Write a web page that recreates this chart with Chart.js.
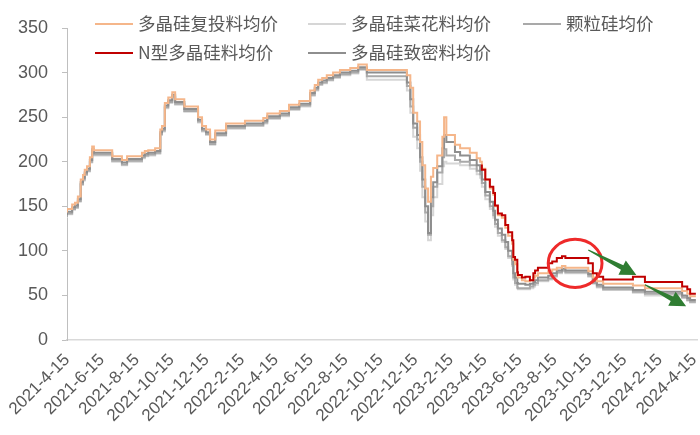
<!DOCTYPE html>
<html><head><meta charset="utf-8">
<script src="https://cdn.jsdelivr.net/npm/chart.js@4.4.1/dist/chart.umd.min.js"></script>
<style>html,body{margin:0;padding:0;background:#fff;overflow:hidden;}</style>
</head><body>
<canvas id="c" width="700" height="435"></canvas>
<script>
// ---------- DATA ----------
const tickLabels = ['2021-4-15','2021-6-15','2021-8-15','2021-10-15','2021-12-15','2022-2-15','2022-4-15','2022-6-15','2022-8-15','2022-10-15','2022-12-15','2023-2-15','2023-4-15','2023-6-15','2023-8-15','2023-10-15','2023-12-15','2024-2-15','2024-4-15'];

const seriesNames = ['多晶硅复投料均价','多晶硅菜花料均价','颗粒硅均价','N型多晶硅料均价','多晶硅致密料均价'];

const dates = ['2021-04-15','2021-04-24','2021-04-29','2021-05-04','2021-05-09','2021-05-13','2021-05-16','2021-05-20','2021-05-25','2021-05-29',
'2021-06-01','2021-07-03','2021-07-20','2021-07-29','2021-08-24','2021-08-29','2021-09-04','2021-09-16','2021-09-25','2021-09-28',
'2021-10-03','2021-10-09','2021-10-16','2021-10-21','2021-11-06','2021-11-30','2021-12-07','2021-12-14','2021-12-21','2021-12-30',
'2022-01-18','2022-02-20','2022-03-24','2022-03-31','2022-04-22','2022-05-08','2022-05-26','2022-06-14','2022-06-22','2022-06-28',
'2022-07-05','2022-07-13','2022-07-24','2022-08-05','2022-08-23','2022-09-06','2022-09-21','2022-11-30','2022-12-06','2022-12-11',
'2022-12-18','2022-12-23','2022-12-27','2023-01-01','2023-01-06','2023-01-11','2023-01-15','2023-01-22','2023-01-31','2023-02-03',
'2023-02-07','2023-02-22','2023-03-03','2023-03-20','2023-04-01','2023-04-07','2023-04-10','2023-04-16','2023-04-24','2023-04-30',
'2023-05-03','2023-05-08','2023-05-15','2023-05-21','2023-05-26','2023-06-02','2023-06-04','2023-06-07','2023-06-11','2023-06-12',
'2023-06-19','2023-06-25','2023-07-03','2023-07-09','2023-07-12','2023-07-17','2023-08-04','2023-08-11','2023-08-19','2023-08-28',
'2023-09-03','2023-10-13','2023-10-21','2023-10-28','2023-11-08','2023-12-30','2024-01-20','2024-03-25','2024-04-03','2024-04-08',
'2024-04-15','2024-04-18'];

const rechargePrice = [143,147,152,154,161,180,185,191,195,205,
217,213,206,202,206,210,212,213,215,236,
240,266,272,278,270,262,250,240,236,225,
235,243,246,249,254,257,264,268,280,286,
292,294,297,300,303,305,309,303,297,283,
255,245,222,196,170,155,183,193,207,228,
250,230,219,215,210,204,200,192,180,170,
163,150,140,137,126,117,108,90,85,72,
70,67,66,67,70,72,75,77,79,81,
83,81,77,70,66,63,61,58,55,52,
49,49];

const densePrice = [140,144,149,151,158,177,182,188,192,202,
214,210,203,199,203,207,209,210,212,233,
237,263,269,275,267,259,247,237,233,222,
232,240,243,246,251,254,261,265,277,283,
289,291,294,297,300,302,306,300,289,270,
243,230,205,180,150,120,160,177,195,215,
230,222,211,207,202,196,190,180,166,155,
145,135,125,118,110,100,90,75,70,64,
63,63,62,63,65,67,70,72,75,78,
80,78,74,66,62,59,56,54,50,47,
45,45];

const granularPrice = [138,142,147,149,156,175,180,186,190,200,
212,208,201,197,201,205,207,208,210,231,
235,261,267,273,265,257,245,235,231,220,
230,238,241,244,249,252,259,263,275,281,
287,289,292,295,298,300,304,296,285,262,
238,225,200,172,143,118,150,172,188,205,
214,207,202,200,196,190,186,176,162,150,
140,130,120,112,104,94,85,70,64,59,
58,58,58,60,62,64,67,69,72,76,
78,76,72,64,60,57,54,52,48,45,
43,43];

const cauliflowerPrice = [137,141,146,148,155,174,179,185,189,199,
211,207,200,196,200,204,206,207,209,230,
234,260,266,272,264,256,244,234,230,219,
229,237,240,243,248,251,258,262,274,280,
286,288,291,294,297,299,303,292,280,255,
228,215,190,160,133,112,140,160,175,195,
200,198,198,196,192,186,182,172,158,147,
137,127,117,110,102,92,83,68,62,58,
57,57,57,58,60,62,66,68,71,75,
77,75,71,63,59,56,53,50,47,44,
42,42];

const nTypeDates = ['2023-04-10','2023-04-16','2023-04-24','2023-04-30','2023-05-03','2023-05-08','2023-05-15','2023-05-21','2023-05-26','2023-06-02',
'2023-06-04','2023-06-07','2023-06-11','2023-06-12','2023-06-19','2023-06-25','2023-07-03','2023-07-09','2023-07-12','2023-07-17',
'2023-08-04','2023-08-11','2023-08-19','2023-08-28','2023-09-03','2023-10-13','2023-10-21','2023-10-28','2023-11-08','2023-12-30',
'2024-01-20','2024-03-25','2024-04-03','2024-04-08','2024-04-15','2024-04-18'];
const nTypePrice = [197,191,180,172,165,151,142,140,129,121,
112,93,90,76,73,70,71,67,75,78,
81,86,88,92,94,92,86,75,71,68,
71,65,60,57,52,52];

// annotation anchors (data units)
const circleMark = {date:'2023-09-20', value:86, rDays:47, rValue:27};
const arrowMarks = [
  {from:['2023-10-13',101], to:['2024-01-05',73]},
  {from:['2024-01-20',62], to:['2024-04-01',38]}
];

// ---------- HELPERS ----------
const DAY = 86400000;
const T0 = Date.UTC(2021,3,15);
function dayOf(s){ const p=s.split('-').map(Number); return (Date.UTC(p[0],p[1]-1,p[2])-T0)/DAY; }
function pts(ds, vs){ return ds.map((d,i)=>({x:dayOf(d), y:vs[i]})); }

const colors = ['#f5b68a','#d6d6d6','#a9a9a9','#c00000','#8e8e8e'];
const seriesData = [pts(dates,rechargePrice), pts(dates,cauliflowerPrice), pts(dates,granularPrice), pts(nTypeDates,nTypePrice), pts(dates,densePrice)];
const drawOrder = [1,4,3,0,2];

const bgPlugin = {id:'bg', beforeDraw(c){const x=c.ctx; x.save(); x.fillStyle='#fff'; x.fillRect(0,0,c.width,c.height); x.restore();}};

const annotPlugin = {
  id:'annot',
  afterDatasetsDraw(c){
    const ctx=c.ctx, xs=c.scales.x, ys=c.scales.y;
    ctx.save();
    const d0=dayOf(circleMark.date);
    const cx=xs.getPixelForValue(d0), cy=ys.getPixelForValue(circleMark.value);
    const rx=xs.getPixelForValue(d0+circleMark.rDays)-cx, ry=cy-ys.getPixelForValue(circleMark.value+circleMark.rValue);
    ctx.beginPath(); ctx.ellipse(cx,cy,rx,ry,0,0,Math.PI*2);
    ctx.strokeStyle='#ee2a2a'; ctx.lineWidth=3; ctx.stroke();
    arrowMarks.forEach(a=>{
      const x1=xs.getPixelForValue(dayOf(a.from[0])), y1=ys.getPixelForValue(a.from[1]);
      const x2=xs.getPixelForValue(dayOf(a.to[0])), y2=ys.getPixelForValue(a.to[1]);
      const ang=Math.atan2(y2-y1,x2-x1), len=Math.hypot(x2-x1,y2-y1);
      const hl=16, hw=8, s1=0.6, s2=2.6;
      ctx.save(); ctx.translate(x1,y1); ctx.rotate(ang);
      ctx.beginPath();
      ctx.moveTo(0,-s1); ctx.lineTo(len-hl,-s2); ctx.lineTo(len-hl,-hw); ctx.lineTo(len,0);
      ctx.lineTo(len-hl,hw); ctx.lineTo(len-hl,s2); ctx.lineTo(0,s1); ctx.closePath();
      ctx.fillStyle='#2f7d32'; ctx.fill();
      ctx.restore();
    });
    ctx.restore();
  }
};

const legendPlugin = {
  id:'customLegend',
  afterDraw(c){
    const ctx=c.ctx;
    const cols=[95,308,523], rows=[23,52];
    const slots=[[0,0],[1,0],[2,0],[0,1],[1,1]];
    ctx.save();
    ctx.font='17.5px "Noto Sans CJK SC", sans-serif';
    ctx.textBaseline='middle'; ctx.textAlign='left';
    c.data.datasets.forEach((ds,k)=>{
      const x=cols[slots[k][0]], y=rows[slots[k][1]];
      ctx.beginPath(); ctx.moveTo(x,y+1); ctx.lineTo(x+38,y+1);
      ctx.strokeStyle=ds.borderColor; ctx.lineWidth=2; ctx.stroke();
      ctx.fillStyle='#595959'; ctx.fillText(ds.label, x+43, y);
    });
    ctx.restore();
  }
};

new Chart(document.getElementById('c'), {
  type:'line',
  data:{
    datasets: seriesNames.map((n,i)=>({
      label:n, data:seriesData[i], borderColor:colors[i], backgroundColor:colors[i],
      borderWidth:2, pointRadius:0, stepped:'after', order:drawOrder[i], fill:false
    }))
  },
  options:{
    responsive:false, animation:false, devicePixelRatio:1,
    layout:{padding:{top:28,right:3,bottom:0,left:0}},
    plugins:{legend:{display:false}, tooltip:{enabled:false}},
    scales:{
      x:{
        type:'linear', min:0, max:dayOf('2024-04-20'),
        afterBuildTicks(s){ s.ticks = tickLabels.map(l=>({value:dayOf(l)})); },
        ticks:{autoSkip:false, minRotation:45, maxRotation:45, color:'#595959',
          font:{family:'"Liberation Sans", Arial, sans-serif', size:17}, padding:10,
          callback:(v,i)=>tickLabels[i]},
        grid:{drawOnChartArea:false, drawTicks:false},
        border:{color:'#d9d9d9', width:1.5},
        afterFit(s){ s.height=95; s.paddingLeft=0; s.paddingRight=0; }
      },
      y:{
        min:0, max:350,
        ticks:{stepSize:50, color:'#595959', font:{family:'"Liberation Sans", Arial, sans-serif', size:18}, padding:14},
        grid:{drawOnChartArea:false, drawTicks:true, tickLength:5, color:'#bfbfbf'},
        border:{color:'#bfbfbf', width:1},
        afterFit(s){ s.width=67; s.paddingTop=0; s.paddingBottom=0; }
      }
    }
  },
  plugins:[bgPlugin, annotPlugin, legendPlugin]
});
</script>
</body></html>
